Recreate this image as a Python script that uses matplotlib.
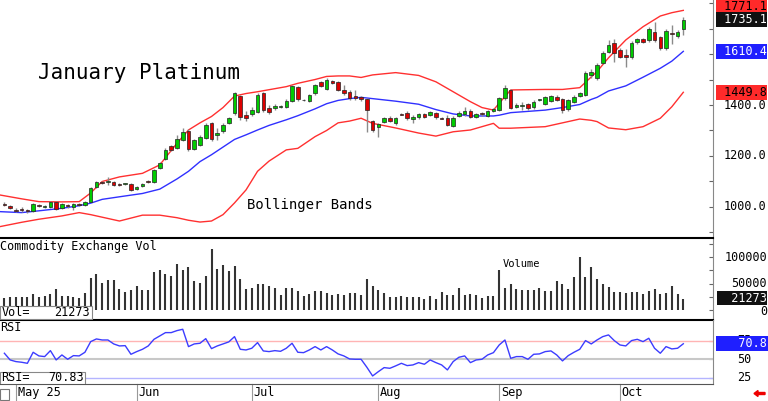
import matplotlib
matplotlib.use("Agg")

import matplotlib.pyplot as plt
import matplotlib.transforms as mtransforms
from matplotlib.patches import Rectangle, FancyArrow
import numpy as np

# -----------------------------------------
# Data (daily bars)
# -----------------------------------------

opens = [1012, 1003, 988, 994, 988, 984, 1009, 1000, 1001, 1021,
         995, 1006, 999, 1011, 1008, 1021, 1078, 1097, 1098, 1099,
         1092, 1090, 1090, 1072, 1082, 1100, 1098, 1153, 1187, 1239,
         1232, 1263, 1299, 1226, 1243, 1270, 1328, 1284, 1298, 1331,
         1367, 1435, 1361, 1365, 1374, 1446, 1387, 1387, 1393, 1393,
         1417, 1469, 1421, 1417, 1446, 1491, 1462, 1495, 1491, 1459,
         1452, 1435, 1430, 1422, 1337, 1315, 1335, 1350, 1328, 1364,
         1370, 1346, 1352, 1364, 1361, 1367, 1349, 1348, 1319, 1357,
         1364, 1378, 1352, 1370, 1357, 1376, 1380, 1426, 1459, 1393,
         1396, 1402, 1391, 1419, 1404, 1417, 1433, 1422, 1383, 1413,
         1435, 1439, 1518, 1505, 1566, 1609, 1642, 1616, 1596, 1587,
         1646, 1659, 1653, 1688, 1666, 1622, 1684, 1670, 1697]

closes = [1008, 998, 984, 988, 983, 1010, 1005, 1002, 1018, 993,
          1012, 1002, 1012, 1008, 1021, 1073, 1099, 1094, 1100, 1086,
          1088, 1091, 1067, 1080, 1090, 1097, 1145, 1174, 1224, 1224,
          1267, 1295, 1226, 1263, 1276, 1322, 1266, 1290, 1322, 1348,
          1446, 1354, 1348, 1380, 1439, 1380, 1374, 1396, 1394, 1417,
          1475, 1422, 1419, 1439, 1478, 1475, 1500, 1487, 1459, 1446,
          1426, 1426, 1422, 1380, 1302, 1324, 1348, 1337, 1348, 1363,
          1348, 1352, 1364, 1352, 1371, 1352, 1348, 1322, 1350, 1370,
          1376, 1352, 1364, 1364, 1376, 1384, 1426, 1468, 1390, 1400,
          1400, 1387, 1413, 1420, 1430, 1435, 1420, 1380, 1420, 1433,
          1446, 1527, 1531, 1557, 1605, 1635, 1605, 1590, 1587, 1645,
          1659, 1649, 1700, 1653, 1622, 1692, 1677, 1688, 1735.1]

highs = [1018, 1008, 995, 1000, 993, 1014, 1013, 1006, 1022, 1025,
         1016, 1010, 1016, 1016, 1025, 1077, 1103, 1102, 1118, 1103,
         1096, 1094, 1094, 1084, 1094, 1104, 1150, 1178, 1230, 1245,
         1284, 1310, 1304, 1268, 1282, 1328, 1332, 1310, 1328, 1353,
         1452, 1440, 1375, 1392, 1446, 1452, 1400, 1404, 1400, 1423,
         1480, 1475, 1424, 1445, 1483, 1496, 1506, 1500, 1495, 1478,
         1458, 1460, 1436, 1426, 1342, 1328, 1352, 1355, 1352, 1368,
         1375, 1360, 1368, 1368, 1376, 1372, 1352, 1360, 1355, 1375,
         1392, 1383, 1368, 1374, 1380, 1388, 1432, 1478, 1464, 1406,
         1412, 1406, 1418, 1424, 1435, 1440, 1438, 1426, 1425, 1438,
         1450, 1533, 1540, 1563, 1610, 1655, 1660, 1622, 1620, 1650,
         1664, 1664, 1706, 1727, 1671, 1697, 1712, 1694, 1745]

lows = [1003, 994, 980, 982, 978, 980, 1000, 996, 997, 990,
        991, 998, 990, 1004, 1004, 1018, 1074, 1090, 1088, 1082,
        1084, 1087, 1062, 1068, 1078, 1094, 1095, 1149, 1183, 1220,
        1228, 1258, 1220, 1222, 1238, 1265, 1260, 1262, 1290, 1326,
        1362, 1340, 1336, 1355, 1368, 1372, 1366, 1380, 1388, 1388,
        1412, 1416, 1415, 1412, 1440, 1470, 1457, 1482, 1454, 1440,
        1420, 1420, 1416, 1295, 1296, 1276, 1330, 1332, 1322, 1360,
        1342, 1330, 1347, 1348, 1356, 1346, 1345, 1318, 1312, 1352,
        1358, 1348, 1348, 1358, 1352, 1372, 1376, 1420, 1384, 1388,
        1380, 1382, 1386, 1415, 1400, 1413, 1414, 1370, 1378, 1408,
        1430, 1434, 1505, 1500, 1560, 1604, 1570, 1585, 1550, 1582,
        1640, 1644, 1648, 1648, 1616, 1617, 1641, 1664, 1674]

volume = [23300, 25200, 24500, 23900, 23900, 30200, 23900, 25800, 30800, 39000,
          25800, 26400, 25200, 22000, 31400, 60400, 68600, 51600, 56000, 56600,
          40300, 34000, 37100, 45300, 37700, 38400, 72300, 74900, 68600, 63500,
          86200, 76100, 80500, 54700, 50300, 63500, 114500, 77400, 84300, 73600,
          82400, 59100, 39000, 42100, 48400, 48400, 45300, 42100, 28900, 42100,
          42100, 35900, 26400, 29600, 35900, 35900, 32700, 27700, 29600, 28300,
          32700, 31400, 28300, 57900, 45300, 37700, 32100, 23900, 23900, 26400,
          23900, 23900, 23900, 21400, 26400, 21400, 34000, 27700, 27700, 40900,
          28900, 29600, 28300, 22000, 26400, 26400, 75500, 40900, 48400, 39000,
          37700, 37700, 37100, 42100, 35900, 36500, 54700, 49700, 39600, 62900,
          100600, 62900, 80500, 58500, 49700, 42800, 34600, 34600, 32700, 33300,
          33300, 30800, 35900, 39000, 30800, 32700, 45300, 30800, 21273]

rsi = [58.1, 49.1, 46.9, 46.0, 44.6, 59.4, 54.5, 53.6, 61.6, 49.1,
       55.8, 50.0, 54.9, 54.5, 59.4, 73.7, 77.3, 75.9, 75.9, 70.6,
       67.9, 68.3, 56.7, 60.3, 63.4, 67.9, 76.8, 81.3, 85.8, 85.8,
       88.5, 90.3, 67.0, 70.6, 71.5, 77.7, 64.3, 67.9, 70.6, 73.3,
       80.4, 63.4, 62.5, 64.8, 72.4, 61.2, 60.3, 61.6, 60.7, 64.8,
       71.5, 59.4, 58.9, 62.5, 67.0, 62.5, 67.0, 62.5, 57.2, 54.5,
       50.4, 50.0, 50.0, 39.3, 27.6, 33.4, 38.8, 37.9, 41.1, 44.6,
       41.5, 42.4, 45.5, 43.3, 49.1, 45.5, 42.4, 35.7, 46.9, 52.7,
       54.5, 45.5, 49.1, 50.0, 55.8, 58.9, 69.2, 75.9, 51.3, 53.6,
       53.6, 50.0, 56.7, 57.2, 60.3, 61.2, 55.8, 47.8, 54.9, 59.4,
       63.4, 75.1, 70.6, 75.9, 80.4, 82.7, 75.1, 69.2, 67.9, 75.1,
       76.8, 73.7, 78.2, 64.8, 58.1, 67.0, 63.9, 64.8, 70.83]

# Bollinger bands, read at a subset of bars
band_idx = [-1, 3, 6, 10, 13, 15, 17, 20, 24, 27, 30, 32, 34, 36, 38, 40,
            42, 44, 46, 49, 51, 54, 56, 58, 60, 62, 64, 68, 72, 75, 78, 81,
            83, 85, 86, 88, 91, 94, 97, 100, 102, 103, 105, 108, 111, 114,
            116, 118]
band_upper = [1048, 1032, 1021, 1020, 1021, 1055, 1100, 1118, 1132, 1165,
              1250, 1302, 1330, 1355, 1390, 1435, 1445, 1452, 1460, 1472,
              1485, 1500, 1512, 1514, 1514, 1508, 1518, 1527, 1516, 1491,
              1452, 1413, 1390, 1380, 1407, 1459, 1460, 1461, 1461, 1468,
              1510, 1531, 1585, 1655, 1707, 1749, 1762, 1771.1]
band_mid = [982, 978, 985, 995, 1005, 1015, 1030, 1040, 1053, 1070,
            1110, 1140, 1178, 1205, 1235, 1265, 1283, 1302, 1320, 1342,
            1358, 1385, 1405, 1418, 1425, 1430, 1425, 1415, 1403, 1382,
            1365, 1357, 1357, 1357, 1360, 1370, 1375, 1380, 1390, 1402,
            1422, 1430, 1455, 1475, 1509, 1544, 1572, 1610.4]
band_lower = [922, 940, 952, 965, 978, 970, 960, 945, 968, 968,
              958, 948, 941, 945, 970, 1016, 1067, 1140, 1180, 1224,
              1230, 1276, 1300, 1330, 1337, 1348, 1328, 1310, 1290, 1278,
              1295, 1302, 1315, 1328, 1309, 1309, 1312, 1315, 1330, 1345,
              1340, 1335, 1310, 1303, 1315, 1348, 1393, 1449.8]

month_idx = [2, 23, 43, 65, 86, 107]
month_labels = ["May 25", "Jun", "Jul", "Aug", "Sep", "Oct"]

# 1600 sits under the mid-band box in the original, so it is not labelled
price_ticks = [1000, 1200, 1400]
volume_ticks = [0, 50000, 100000]
rsi_ticks = [25, 50, 75]

# -----------------------------------------
# Figure layout (pixel based)
# -----------------------------------------

W, H = 768, 401
MONO = "DejaVu Sans Mono"

fig = plt.figure(figsize=(W / 100, H / 100), dpi=100)


def panel(top, bottom, right=713):
    return [0, 1 - bottom / H, right / W, (bottom - top) / H]


ax = fig.add_axes(panel(0, 238))
axv = fig.add_axes(panel(238, 319.5), sharex=ax)
axr = fig.add_axes(panel(319.5, 384), sharex=ax)

idx = np.arange(len(closes))
o = np.array(opens, dtype=float)
c = np.array(closes, dtype=float)

# -----------------------------------------
# Price panel: candles + Bollinger bands
# -----------------------------------------

ax.vlines(idx, lows, highs, color="#8a8a8a", lw=1.0, zorder=2)

body = c - o
body = np.where(np.abs(body) < 3, np.where(body >= 0, 3, -3), body)
colors = np.where(c >= o, "#00cc00", "#dd0000")
ax.bar(idx, body, bottom=o, width=0.62, color=colors,
       edgecolor="#222222", linewidth=0.5, zorder=3)

ax.plot(band_idx, band_upper, color="#ff3030", lw=1.0, zorder=1)
ax.plot(band_idx, band_mid, color="#3030ff", lw=1.0, zorder=1)
ax.plot(band_idx, band_lower, color="#ff3030", lw=1.0, zorder=1)

ax.set_xlim(-0.76, 123.16)
ax.set_ylim(878.4, 1811.8)

ax.text(0.053, 0.670, "January Platinum", transform=ax.transAxes,
        family=MONO, fontsize=15, va="baseline", ha="left")
ax.text(0.346, 0.139, "Bollinger Bands", transform=ax.transAxes,
        family=MONO, fontsize=10, va="center", ha="left")

# -----------------------------------------
# Volume panel
# -----------------------------------------

axv.vlines(idx, 0, volume, color="#333333", lw=1.5)
axv.set_ylim(-17900, 135850)

axv.text(0.0, 0.89, "Commodity Exchange Vol", transform=axv.transAxes,
         family=MONO, fontsize=8.5, va="center", ha="left")
axv.text(0.705, 0.68, "Volume", transform=axv.transAxes,
         family=MONO, fontsize=7.5, va="center", ha="left")

axv.add_patch(Rectangle((0, 0.006), 0.129, 0.16, transform=axv.transAxes,
                        facecolor="white", edgecolor="#888888", lw=0.8,
                        zorder=5))
axv.text(0.002, 0.086, "Vol=", transform=axv.transAxes, family=MONO,
         fontsize=8.5, va="center", ha="left", zorder=6)
axv.text(0.126, 0.086, f"{volume[-1]:.0f}", transform=axv.transAxes,
         family=MONO, fontsize=8.5, va="center", ha="right", zorder=6)

# -----------------------------------------
# RSI panel
# -----------------------------------------

axr.axhline(75, color="#ffb4b4", lw=1.0)
axr.axhline(50, color="#c8c8c8", lw=1.5)
axr.axhline(25, color="#b4b4ff", lw=1.0)
axr.plot(idx, rsi, color="#3c3cff", lw=1.0)
axr.set_ylim(16.8, 103.4)

axr.text(0.0, 0.88, "RSI", transform=axr.transAxes,
         family=MONO, fontsize=8.5, va="center", ha="left")

axr.add_patch(Rectangle((0, 0.0), 0.119, 0.186, transform=axr.transAxes,
                        facecolor="white", edgecolor="#888888", lw=0.8,
                        zorder=5))
axr.text(0.002, 0.095, "RSI=", transform=axr.transAxes, family=MONO,
         fontsize=8.5, va="center", ha="left", zorder=6)
axr.text(0.117, 0.095, f"{rsi[-1]:.2f}", transform=axr.transAxes,
         family=MONO, fontsize=8.5, va="center", ha="right", zorder=6)

# -----------------------------------------
# Spines / ticks
# -----------------------------------------

for a in (ax, axv, axr):
    a.set_facecolor("none")
    a.spines["left"].set_visible(False)
    a.spines["right"].set_color("#888888")
    a.tick_params(axis="x", bottom=False, labelbottom=False)
    a.tick_params(axis="y", left=False, labelleft=False, right=True,
                  direction="in", length=3, color="#666666")

ax.spines["top"].set_visible(False)
ax.spines["bottom"].set_visible(False)
axv.spines["top"].set_linewidth(1.5)
axv.spines["bottom"].set_linewidth(1.5)
axr.spines["top"].set_visible(False)
axr.spines["bottom"].set_color("#555555")

ax.set_yticks(np.arange(900, 1801, 100))
axv.set_yticks(np.arange(0, 125001, 25000))
axr.set_yticks(rsi_ticks)

# -----------------------------------------
# Right-hand scale labels
# -----------------------------------------

def right_label(a, value, text, x=766.5, ha="right", fc=None, tc="black",
                dy=0, pad=0.08):
    trans = mtransforms.blended_transform_factory(fig.transFigure,
                                                  a.transData)
    kw = {}
    if fc is not None:
        kw["bbox"] = dict(boxstyle=f"square,pad={pad}", facecolor=fc,
                          edgecolor="none")
    a.annotate(text, xy=(x / W, value), xycoords=trans,
               xytext=(0, dy), textcoords="offset points",
               family=MONO, fontsize=8.5, ha=ha, va="center",
               color=tc, annotation_clip=False, **kw)


for t in price_ticks:
    right_label(ax, t, f"{t:.1f}")
for t in volume_ticks:
    right_label(axv, t, f"{t}", x=767, dy=-1 if t == 0 else 0)
for t in rsi_ticks:
    right_label(axr, t, f"{t}", x=744, ha="center")

right_label(ax, band_upper[-1], f" {band_upper[-1]:.1f}", fc="#ff2a2a",
            dy=2.5)
right_label(ax, closes[-1], f" {closes[-1]:.1f}", fc="#111111",
            tc="white")
right_label(ax, band_mid[-1], f" {band_mid[-1]:.1f}", fc="#1f1fff",
            tc="white")
right_label(ax, band_lower[-1], f" {band_lower[-1]:.1f}", fc="#ff2a2a")
right_label(axv, volume[-1], f"  {volume[-1]}", x=767, fc="#111111",
            tc="white", pad=0.02, dy=0.5)
right_label(axr, rsi[-1], f"   {rsi[-1]:.1f}", x=767, fc="#1f1fff",
            tc="white")

# -----------------------------------------
# Date row under the RSI panel
# -----------------------------------------

date_trans = mtransforms.blended_transform_factory(axr.transData,
                                                   axr.transAxes)
for i, lab in zip(month_idx, month_labels):
    axr.plot([i, i], [0, -0.27], transform=date_trans, color="#999999",
             lw=0.8, clip_on=False)
    axr.text(i + 0.3, -0.135, lab, transform=date_trans, family=MONO,
             fontsize=8.6, va="center", ha="left")

axr.add_patch(Rectangle((0.0, -0.25), 0.013, 0.18, transform=axr.transAxes,
                        facecolor="white", edgecolor="#777777", lw=0.8,
                        clip_on=False))

fig.patches.append(FancyArrow(
    765 / W, 1 - 393.5 / H, -7 / W, 0, width=2 / H, head_width=6 / H,
    head_length=4 / W, color="#ee0000", transform=fig.transFigure))

fig.savefig("out.png", dpi=100)
